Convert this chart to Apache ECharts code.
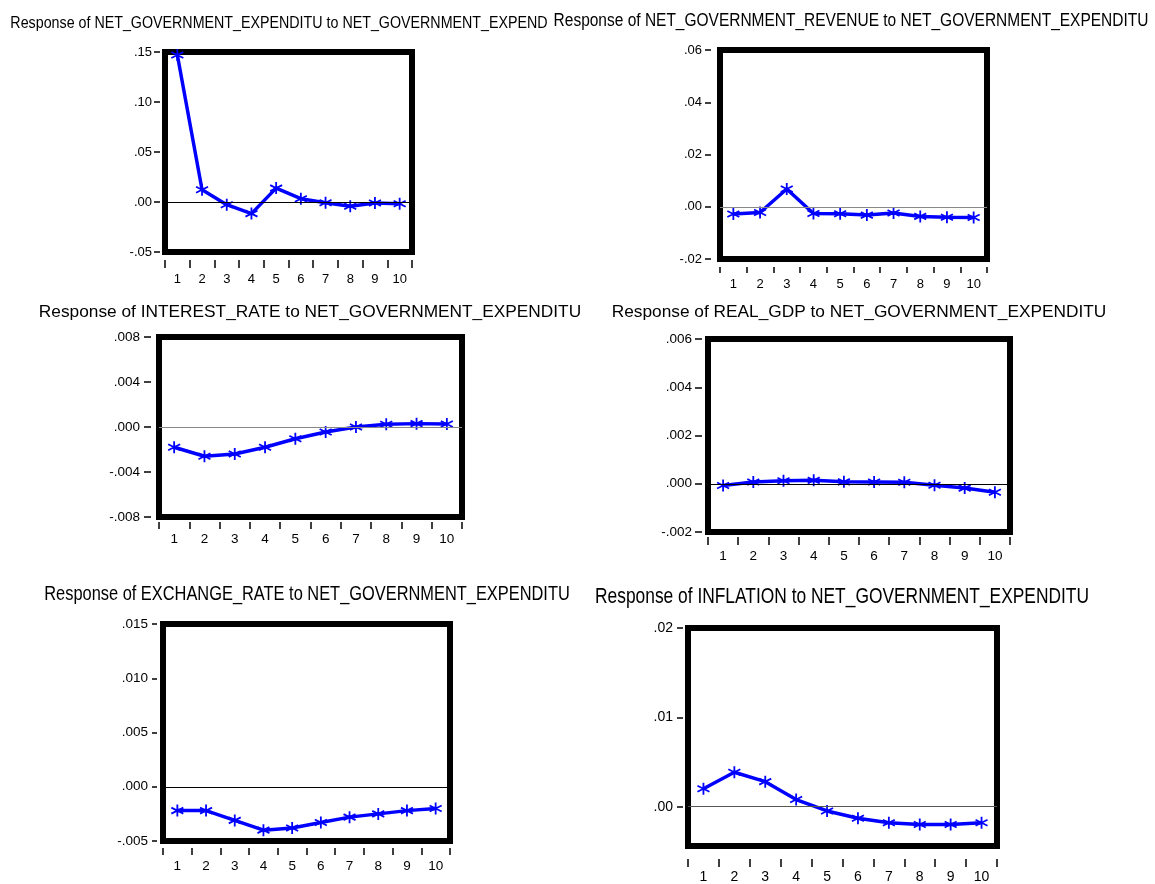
<!DOCTYPE html>
<html>
<head>
<meta charset="utf-8">
<script src="https://cdn.jsdelivr.net/npm/echarts@6/dist/echarts.min.js"></script>
<style>
  html, body { margin: 0; padding: 0; background: #fff; }
  #chart { width: 1155px; height: 884px; }
</style>
</head>
<body>
<div id="chart"></div>
<script>
// periods 1..10
var periods = ['1', '2', '3', '4', '5', '6', '7', '8', '9', '10'];

// responses
var respNetExp   = [0.147, 0.0122, -0.0027, -0.0116, 0.0139, 0.0033, -0.0007, -0.0043, -0.001, -0.0017];
var respRevenue  = [-0.0028, -0.0022, 0.0068, -0.0026, -0.0027, -0.0032, -0.0024, -0.0037, -0.004, -0.0041];
var respInterest = [-0.0018, -0.0026, -0.0024, -0.0018, -0.00104, -0.00044, 0.0, 0.00024, 0.0003, 0.00027];
var respGdp      = [-0.00007, 0.00007, 0.000125, 0.00014, 0.00008, 0.00007, 0.00006, -0.00006, -0.00018, -0.00035];
var respExchange = [-0.0022, -0.0022, -0.0031, -0.004, -0.0038, -0.0033, -0.0028, -0.0025, -0.0022, -0.002];
var respInflation = [0.002, 0.00385, 0.0028, 0.0008, -0.00048, -0.0013, -0.0018, -0.002, -0.002, -0.0018];

// y tick values and labels
var ticks1 = [-0.05, 0, 0.05, 0.10, 0.15];
var labels1 = ['-.05', '.00', '.05', '.10', '.15'];
var ticks2 = [-0.02, 0, 0.02, 0.04, 0.06];
var labels2 = ['-.02', '.00', '.02', '.04', '.06'];
var ticks3 = [-0.008, -0.004, 0, 0.004, 0.008];
var labels3 = ['-.008', '-.004', '.000', '.004', '.008'];
var ticks4 = [-0.002, 0, 0.002, 0.004, 0.006];
var labels4 = ['-.002', '.000', '.002', '.004', '.006'];
var ticks5 = [-0.005, 0, 0.005, 0.010, 0.015];
var labels5 = ['-.005', '.000', '.005', '.010', '.015'];
var ticks6 = [0, 0.01, 0.02];
var labels6 = ['.00', '.01', '.02'];

var ARIAL = "'Liberation Sans', Arial, sans-serif";

// sx < 1 squeezes the title like the narrow font in the original
// y: [offset, tick length, label margin], x: [offset, tick length, label margin]
var panels = [
  { title: 'Response of NET_GOVERNMENT_EXPENDITU to NET_GOVERNMENT_EXPEND', tx: 279, ty: 23, tsize: 17.4, sx: 0.82,
    grid: { left: 165, top: 52, width: 247, height: 200 }, min: -0.05, max: 0.15,
    ticks: ticks1, labels: labels1, data: respNetExp, zero: '#000', lsize: 13,
    y: [5, 6, 8], x: [8, 8, 13] },
  { title: 'Response of NET_GOVERNMENT_REVENUE to NET_GOVERNMENT_EXPENDITU', tx: 851, ty: 21, tsize: 18.9, sx: 0.82,
    grid: { left: 720, top: 50, width: 267, height: 209 }, min: -0.02, max: 0.06,
    ticks: ticks2, labels: labels2, data: respRevenue, zero: '#888', lsize: 13,
    y: [9, 6, 9], x: [8, 6, 11] },
  { title: 'Response of INTEREST_RATE to NET_GOVERNMENT_EXPENDITU', tx: 310, ty: 312, tsize: 17.3, sx: 1,
    grid: { left: 159, top: 337, width: 303, height: 180 }, min: -0.008, max: 0.008,
    ticks: ticks3, labels: labels3, data: respInterest, zero: '#888', lsize: 13.5,
    y: [8, 7, 11], x: [5, 7, 10] },
  { title: 'Response of REAL_GDP to NET_GOVERNMENT_EXPENDITU', tx: 859, ty: 312, tsize: 17.3, sx: 1,
    grid: { left: 708, top: 339, width: 302, height: 193 }, min: -0.002, max: 0.006,
    ticks: ticks4, labels: labels4, data: respGdp, zero: '#000', lsize: 13.5,
    y: [6, 7, 10], x: [5, 8, 12] },
  { title: 'Response of EXCHANGE_RATE to NET_GOVERNMENT_EXPENDITU', tx: 307, ty: 594, tsize: 20, sx: 0.82,
    grid: { left: 163, top: 624, width: 287, height: 217 }, min: -0.005, max: 0.015,
    ticks: ticks5, labels: labels5, data: respExchange, zero: '#000', lsize: 13.5,
    y: [6, 5, 9], x: [7, 7, 11] },
  { title: 'Response of INFLATION to NET_GOVERNMENT_EXPENDITU', tx: 842, ty: 597, tsize: 21.2, sx: 0.82,
    grid: { left: 688, top: 628, width: 309, height: 219 }, min: -0.0044, max: 0.02,
    ticks: ticks6, labels: labels6, data: respInflation, zero: '#555', lsize: 14,
    y: [5, 6, 10], x: [13, 8, 11] }
];

var asterisk = 'path://M5,0L5,10M0.7,2.5L9.3,7.5M0.7,7.5L9.3,2.5';

var option = { animation: false, graphic: [], grid: [], xAxis: [], yAxis: [], series: [] };

panels.forEach(function (p, i) {
  option.graphic.push({
    type: 'text', x: p.tx, y: p.ty, scaleX: p.sx, silent: true,
    style: {
      text: p.title, fill: '#000', align: 'center', verticalAlign: 'middle',
      font: 'normal ' + p.tsize + 'px ' + ARIAL
    }
  });
  option.grid.push({
    left: p.grid.left, top: p.grid.top, width: p.grid.width, height: p.grid.height,
    show: true, borderColor: '#000', borderWidth: 6, backgroundColor: '#fff'
  });
  option.xAxis.push({
    type: 'category', gridIndex: i, data: periods, boundaryGap: true, offset: p.x[0],
    axisLine: { show: false, onZero: false },
    axisTick: { show: true, length: p.x[1], lineStyle: { color: '#000', width: 1.5 } },
    axisLabel: { margin: p.x[2], color: '#000', fontFamily: ARIAL, fontSize: p.lsize, interval: 0 },
    splitLine: { show: false }
  });
  option.yAxis.push({
    type: 'value', gridIndex: i, min: p.min, max: p.max, offset: p.y[0],
    axisLine: { show: false },
    axisTick: { show: true, length: p.y[1], customValues: p.ticks, lineStyle: { color: '#000', width: 1.5 } },
    axisLabel: {
      margin: p.y[2], color: '#000', fontFamily: ARIAL, fontSize: p.lsize, customValues: p.ticks,
      formatter: function (v) {
        for (var k = 0; k < p.ticks.length; k++) {
          if (Math.abs(p.ticks[k] - v) < 1e-9) return p.labels[k];
        }
        return '';
      }
    },
    splitLine: { show: false }
  });
  option.series.push({
    type: 'line', xAxisIndex: i, yAxisIndex: i, data: p.data,
    symbol: asterisk, symbolSize: 12, showSymbol: true,
    lineStyle: { color: '#0000ff', width: 3.5 },
    itemStyle: { color: '#0000ff', borderColor: '#0000ff', borderWidth: 1.8 },
    markLine: {
      silent: true, symbol: 'none', label: { show: false },
      lineStyle: { color: p.zero, width: 1, type: 'solid' },
      data: [{ yAxis: 0 }]
    },
    z: 3
  });
});

var chart = echarts.init(document.getElementById('chart'));
chart.setOption(option);
</script>
</body>
</html>
